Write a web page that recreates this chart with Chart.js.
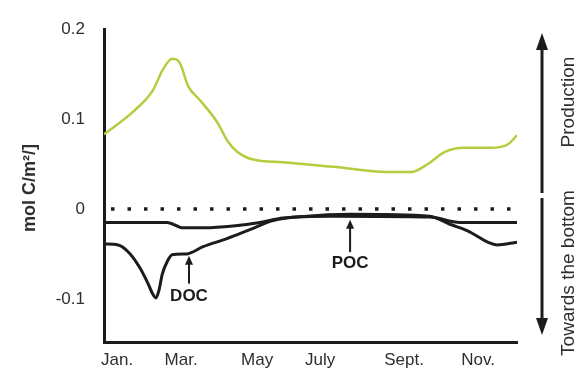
<!DOCTYPE html>
<html>
<head>
<meta charset="utf-8">
<script src="https://cdn.jsdelivr.net/npm/chart.js@4"></script>
<style>
  html, body { margin: 0; padding: 0; background: #fff; }
  canvas { display: block; }
</style>
</head>
<body>
<canvas id="fluxChart" width="581" height="383"></canvas>
<script>
// Month axis: 0 = start of January, 12 = end of December
const monthLabels = ["Jan.", "Mar.", "May", "July", "Sept.", "Nov."];
const monthTicks = [0.38, 2.24, 4.45, 6.28, 8.72, 10.87];

const valueTicks = [-0.1, 0, 0.1, 0.2];
const valueLabels = ["-0.1", "0", "0.1", "0.2"];

// Production (mol C/m²/d)
const prodMonths = [0, 0.84, 1.42, 1.71, 1.98, 2.21, 2.44, 2.79, 3.28, 3.6, 3.86, 4.33, 5.2, 6.65, 8.4, 8.92, 9.41, 9.88, 10.46, 11.24, 11.74, 12];
const prodValues = [0.083, 0.108, 0.132, 0.155, 0.167, 0.162, 0.137, 0.121, 0.097, 0.075, 0.064, 0.055, 0.052, 0.047, 0.041, 0.041, 0.05, 0.063, 0.068, 0.068, 0.072, 0.082];

// Export towards the bottom, particulate
const pocMonths = [0, 1.83, 2.3, 2.93, 3.75, 4.53, 5.2, 6.65, 9.47, 10.34, 12];
const pocValues = [-0.015, -0.015, -0.021, -0.021, -0.019, -0.015, -0.01, -0.008, -0.009, -0.015, -0.015];

// Export towards the bottom, dissolved
const docMonths = [0, 0.41, 0.76, 1.05, 1.28, 1.42, 1.51, 1.6, 1.69, 1.83, 1.98, 2.41, 2.88, 3.57, 4.24, 4.91, 5.9, 7.15, 9.47, 10.05, 10.55, 11.42, 12];
const docValues = [-0.039, -0.04, -0.05, -0.066, -0.083, -0.095, -0.099, -0.09, -0.073, -0.059, -0.051, -0.05, -0.042, -0.033, -0.023, -0.013, -0.008, -0.006, -0.008, -0.017, -0.024, -0.04, -0.037];

const zeroMonths = [0, 12];
const zeroValues = [0, 0];

const toPoints = (xs, ys) => xs.map((x, i) => ({ x: x, y: ys[i] }));

const ink = "#1c1c1c";
const textColor = "#2e2e2e";
const fontFamily = "'Liberation Sans', Arial, sans-serif";

// Arrow with a filled head at (x, tipY)
const drawArrow = (ctx, x, fromY, tipY, headLen, headW, width) => {
  const dir = tipY < fromY ? 1 : -1;
  ctx.save();
  ctx.strokeStyle = ink;
  ctx.fillStyle = ink;
  ctx.lineWidth = width;
  ctx.beginPath();
  ctx.moveTo(x, fromY);
  ctx.lineTo(x, tipY + dir * headLen * 0.8);
  ctx.stroke();
  ctx.beginPath();
  ctx.moveTo(x, tipY);
  ctx.lineTo(x - headW / 2, tipY + dir * headLen);
  ctx.lineTo(x + headW / 2, tipY + dir * headLen);
  ctx.closePath();
  ctx.fill();
  ctx.restore();
};

const drawRotated = (ctx, text, x, y, font) => {
  ctx.save();
  ctx.translate(x, y);
  ctx.rotate(-Math.PI / 2);
  ctx.fillStyle = textColor;
  ctx.font = font;
  ctx.textAlign = "center";
  ctx.textBaseline = "middle";
  ctx.fillText(text, 0, 0);
  ctx.restore();
};

// Labels pointing at the two export curves
const callouts = [
  { text: "DOC", month: 2.47, tip: -0.052, tail: -0.083, label: -0.097 },
  { text: "POC", month: 7.15, tip: -0.012, tail: -0.048, label: -0.061 },
];

const annotations = {
  id: "annotations",
  afterDraw(chart) {
    const { ctx, chartArea, scales } = chart;
    const xs = scales.x;
    const ys = scales.y;

    callouts.forEach((c) => {
      const px = xs.getPixelForValue(c.month);
      drawArrow(ctx, px, ys.getPixelForValue(c.tail), ys.getPixelForValue(c.tip), 9, 8, 2);
      ctx.save();
      ctx.fillStyle = ink;
      ctx.font = "bold 17px " + fontFamily;
      ctx.textAlign = "center";
      ctx.textBaseline = "middle";
      ctx.fillText(c.text, px, ys.getPixelForValue(c.label));
      ctx.restore();
    });

    // y axis title
    drawRotated(ctx, "mol C/m²/]", 30, 188, "bold 18px " + fontFamily);

    // direction arrows and captions on the right
    const ax = chartArea.right + 25;
    drawArrow(ctx, ax, 193, 33, 17, 12, 3);
    drawArrow(ctx, ax, 198, 335, 17, 12, 3);
    drawRotated(ctx, "Production", chartArea.right + 52, 102, "19px " + fontFamily);
    drawRotated(ctx, "Towards the bottom", chartArea.right + 52, 273, "19px " + fontFamily);
  },
};

new Chart(document.getElementById("fluxChart"), {
  type: "line",
  data: {
    datasets: [
      {
        data: toPoints(zeroMonths, zeroValues),
        borderColor: ink,
        borderWidth: 3.5,
        borderDash: [3.5, 13],
        borderDashOffset: -7,
        pointRadius: 0,
      },
      {
        data: toPoints(pocMonths, pocValues),
        borderColor: ink,
        borderWidth: 3,
        cubicInterpolationMode: "monotone",
        pointRadius: 0,
      },
      {
        data: toPoints(docMonths, docValues),
        borderColor: ink,
        borderWidth: 3,
        cubicInterpolationMode: "monotone",
        pointRadius: 0,
      },
      {
        data: toPoints(prodMonths, prodValues),
        borderColor: "#b8cb3e",
        borderWidth: 2.5,
        cubicInterpolationMode: "monotone",
        pointRadius: 0,
      },
    ],
  },
  options: {
    responsive: false,
    animation: false,
    layout: { padding: { top: 22, right: 64, left: 0, bottom: 0 } },
    plugins: {
      legend: { display: false },
      tooltip: { enabled: false },
    },
    scales: {
      x: {
        type: "linear",
        min: 0,
        max: 12,
        afterBuildTicks: (scale) => {
          scale.ticks = monthTicks.map((v) => ({ value: v }));
        },
        afterFit: (scale) => {
          scale.height = 41;
        },
        grid: { display: false, drawTicks: false },
        border: { display: true, color: ink, width: 3 },
        ticks: {
          callback: (value, index) => monthLabels[index],
          color: textColor,
          font: { size: 17, family: fontFamily },
          padding: 8,
          autoSkip: false,
          maxRotation: 0,
        },
      },
      y: {
        type: "linear",
        min: -0.148,
        max: 0.2,
        afterBuildTicks: (scale) => {
          scale.ticks = valueTicks.map((v) => ({ value: v }));
        },
        afterFit: (scale) => {
          scale.width = 104;
        },
        grid: { display: false, drawTicks: false },
        border: { display: true, color: ink, width: 3 },
        ticks: {
          callback: (value, index) => valueLabels[index],
          color: textColor,
          font: { size: 17, family: fontFamily },
          padding: 19,
        },
      },
    },
  },
  plugins: [annotations],
});
</script>
</body>
</html>
